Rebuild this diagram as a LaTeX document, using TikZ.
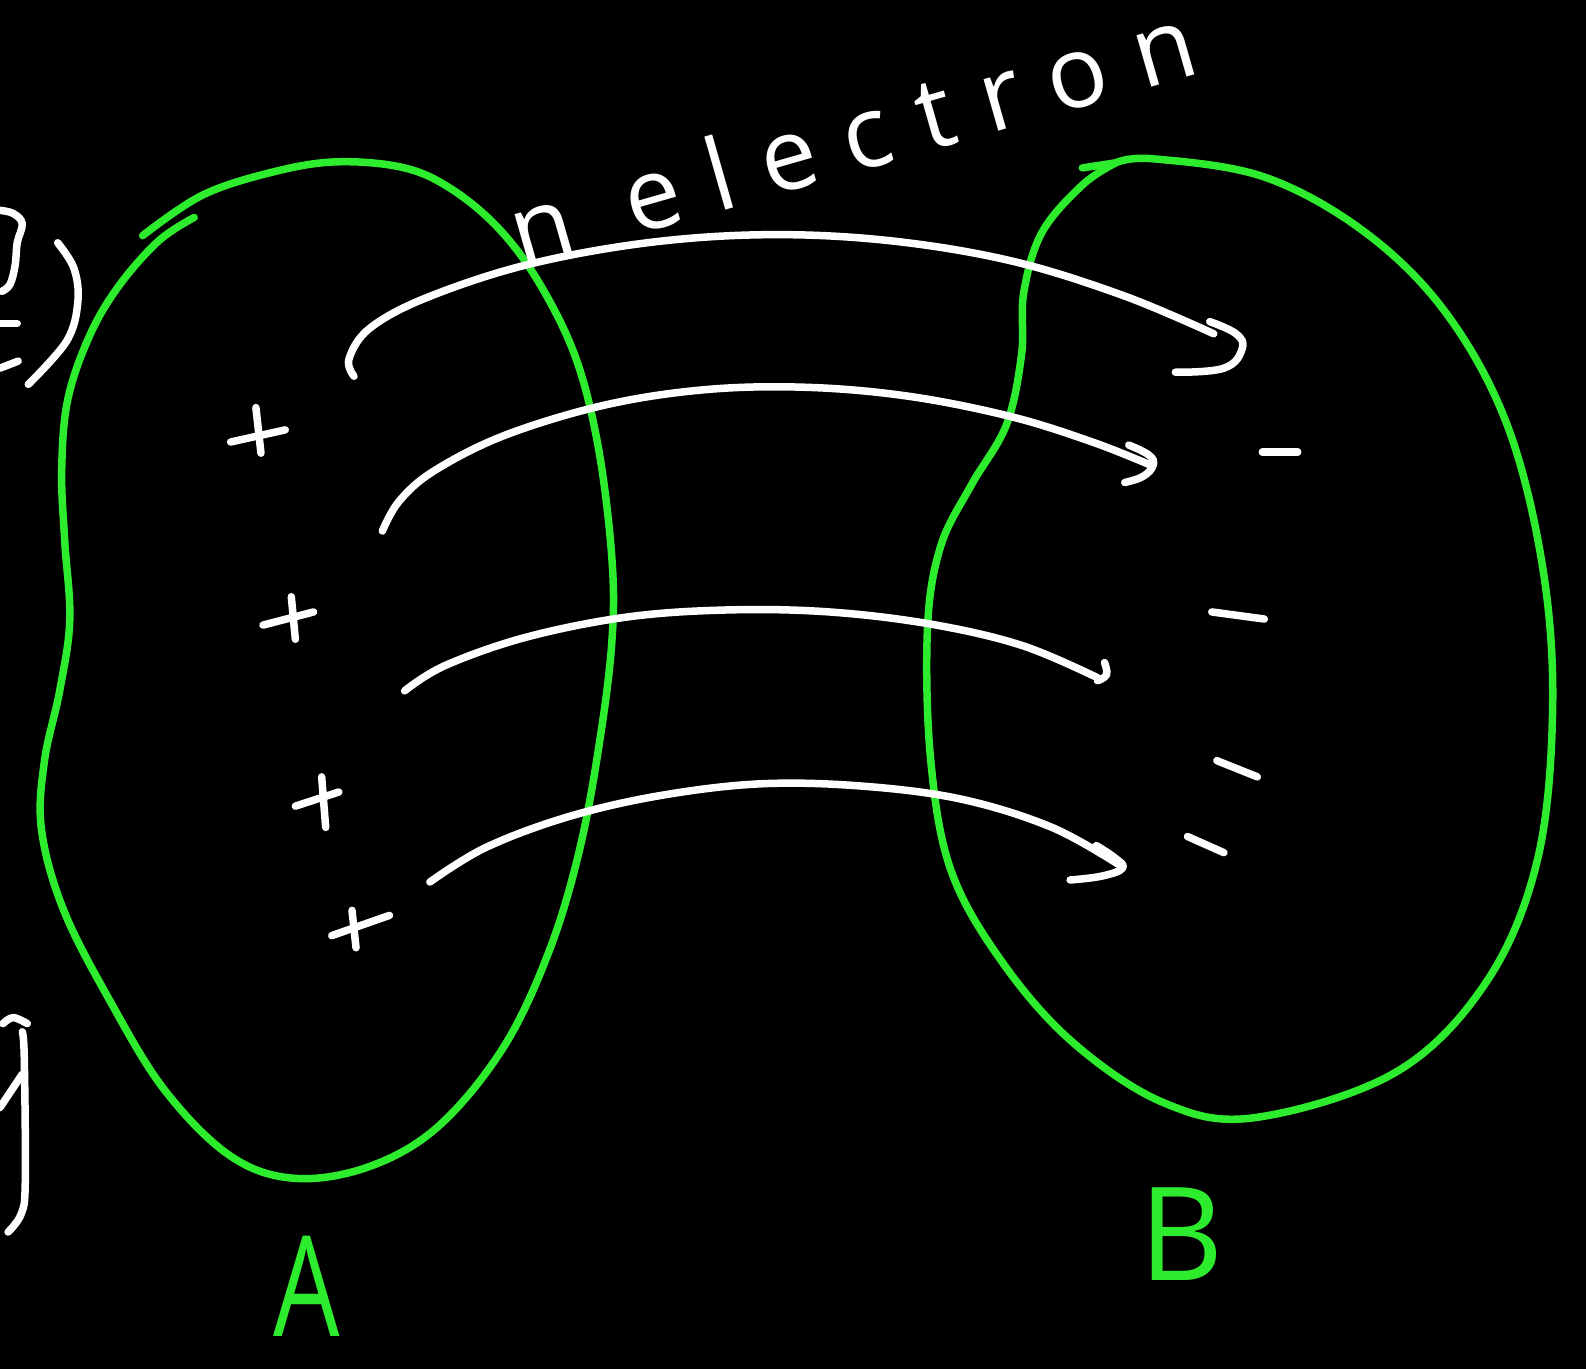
\documentclass[tikz,border=0pt]{standalone}
\usepackage{fontspec}
\newfontfamily\hand[LetterSpace=30]{Open Sans}
\newfontfamily\handlbl{Open Sans}
\definecolor{grn}{RGB}{45,235,45}
\begin{document}
\begin{tikzpicture}[x=1.0115pt,y=-1.0115pt,
  gline/.style={draw=grn, line width=7.5pt, line cap=round, line join=round},
  wline/.style={draw=white, line width=7.5pt, line cap=round, line join=round},
  wthin/.style={draw=white, line width=7.5pt, line cap=round, line join=round}]
\fill[black] (0,0) rectangle (1568,1353);
\useasboundingbox (0,0) rectangle (1568,1353);

% blob A
\draw[gline] plot[smooth, tension=0.6] coordinates {(141,233) (200,193) (270,170) (333,160) (400,166) (448,188) (495,228) (535,283) (570,356) (592,445) (605,553) (605,633) (593,732) (573,840) (543,940) (498,1035) (434,1113) (366,1153) (292,1165) (228,1143) (163,1078) (109,990) (63,900) (41,820) (44,752) (59,683) (69,613) (64,535) (61,465) (67,395) (89,331) (118,282) (157,238) (192,215)};

% blob B
\draw[gline] (1070,166) -- (1103,161);
\draw[gline] plot[smooth, tension=0.6] coordinates {(1103,161) (1140,157) (1250,175) (1350,230) (1430,310) (1490,420) (1525,560) (1535,700) (1520,850) (1470,970) (1380,1060) (1240,1105) (1150,1090) (1060,1030) (990,950) (940,860) (920,750) (917,620) (930,540) (960,480) (995,420) (1010,350) (1012,290) (1030,230) (1070,183) (1103,161)};

% arcs
\draw[wline] plot[smooth, tension=0.6] coordinates {(350,372) (345,355) (365,325) (420,295) (520,262) (640,240) (760,232) (880,238) (1000,258) (1110,292) (1200,330)};
\draw[wline] plot[smooth, tension=0.7] coordinates {(1196,318) (1222,330) (1228,345) (1210,364) (1162,368)};

\draw[wline] plot[smooth, tension=0.6] coordinates {(378,525) (395,495) (430,465) (500,430) (600,400) (700,385) (800,383) (900,392) (1000,412) (1080,437) (1138,460)};
\draw[wline] plot[smooth, tension=0.7] coordinates {(1116,440) (1136,450) (1140,460) (1130,471) (1112,477)};

\draw[wline] plot[smooth, tension=0.6] coordinates {(400,683) (440,658) (520,630) (620,610) (720,603) (820,605) (920,617) (1010,638) (1085,670)};
\draw[wline] plot[smooth, tension=0.7] coordinates {(1092,655) (1094,667) (1085,673)};

\draw[wline] plot[smooth, tension=0.6] coordinates {(425,872) (480,838) (560,808) (650,787) (750,775) (850,777) (950,790) (1040,818) (1108,856)};
\draw[wline] plot[smooth, tension=0.7] coordinates {(1084,836) (1102,848) (1110,858) (1090,866) (1058,870)};

% plus signs
\draw[wthin] (228,437) -- (282,425); \draw[wthin] (253,403) -- (258,448);
\draw[wthin] (260,618) -- (310,605); \draw[wthin] (288,590) -- (292,632);
\draw[wthin] (292,797) -- (335,783); \draw[wthin] (318,768) -- (322,818);
\draw[wthin] (328,925) -- (385,905); \draw[wthin] (348,900) -- (352,937);

% minus signs
\draw[wthin] (1248,447) -- (1283,447);
\draw[wthin] (1198,605) -- (1250,612);
\draw[wthin] (1203,752) -- (1243,768);
\draw[wthin] (1174,827) -- (1210,843);

% cut-off handwriting at left edge
\draw[wthin] plot[smooth, tension=0.6] coordinates {(0,208) (13,211) (22,221) (17,240) (15,262) (10,281) (2,288)};
\draw[wthin] plot[smooth, tension=0.6] coordinates {(57,240) (73,265) (77,298) (66,337) (28,380)};
\draw[wthin] (0,320) -- (17,320);
\draw[wthin] (0,364) -- (18,357);
\draw[wthin] plot[smooth, tension=0.6] coordinates {(3,1012) (13,1006) (27,1012)};
\draw[wthin] plot[smooth, tension=0.6] coordinates {(22,1020) (24,1046) (25,1168) (21,1200) (8,1218)};
\draw[wthin] (22,1062) -- (0,1095);

% texts
\node[text=white, font=\hand\fontsize{100}{100}\selectfont, rotate=16, inner sep=0pt] (lbl) at (842,133) {n electron};
\node[text=grn, font=\handlbl\fontsize{140}{140}\selectfont, xscale=0.75, inner sep=0pt] (la) at (303,1272) {A};
\node[text=grn, font=\handlbl\fontsize{130}{130}\selectfont, inner sep=0pt] (lb) at (1168,1220) {B};
\end{tikzpicture}
\end{document}
